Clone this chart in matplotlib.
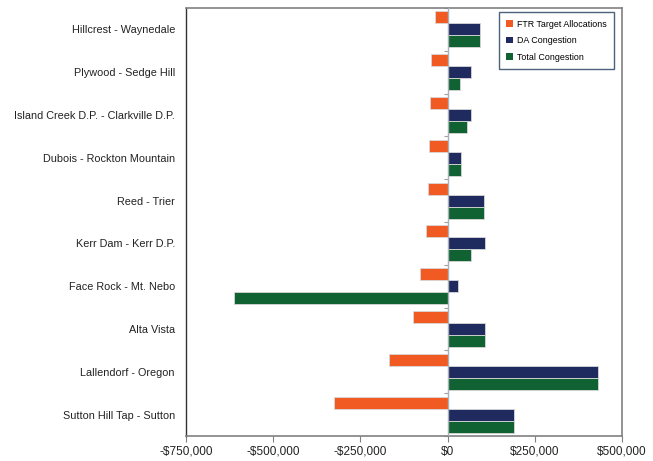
import matplotlib
matplotlib.use("Agg")
import matplotlib.pyplot as plt
import numpy as np
from matplotlib.ticker import FuncFormatter

plt.rcParams['font.family'] = ['Liberation Sans', 'DejaVu Sans']

categories = ["Hillcrest - Waynedale", "Plywood - Sedge Hill",
              "Island Creek D.P. - Clarkville D.P.", "Dubois - Rockton Mountain",
              "Reed - Trier", "Kerr Dam - Kerr D.P.", "Face Rock - Mt. Nebo",
              "Alta Vista", "Lallendorf - Oregon", "Sutton Hill Tap - Sutton"]
ftr = [-36000, -49000, -51000, -52000, -56000, -61000, -80000, -99000, -168000, -327000]
da = [92000, 67000, 68000, 38000, 104000, 107000, 30000, 108000, 431000, 190000]
total = [92000, 35000, 56000, 38000, 104000, 67000, -611000, 108000, 431000, 190000]
series_names = ["FTR Target Allocations", "DA Congestion", "Total Congestion"]
colors = ["#F15A22", "#1F2A5E", "#116233"]
xticks = [-750000, -500000, -250000, 0, 250000, 500000]

fig = plt.figure(figsize=(6.53, 4.61), dpi=100)
ax = fig.add_axes([186/653, 1-436/461, (622-186)/653, (436-8)/461])

n = len(categories)
y = np.arange(n)
h = 0.28
for i, (vals, name, c) in enumerate(zip([ftr, da, total], series_names, colors)):
    ax.barh(y + (i - 1) * h, vals, height=h, color=c, label=name,
            edgecolor='#d8d8d8', linewidth=0.6, zorder=2)

ax.set_xlim(-750000, 500000)
ax.set_ylim(n - 0.5, -0.5)
ax.set_xticks(xticks)
ax.xaxis.set_major_formatter(FuncFormatter(lambda v, p: ("-$" if v < 0 else "$") + f"{abs(int(v)):,}"))
ax.set_yticks(y)
ax.set_yticklabels(categories)
ax.tick_params(axis='y', length=0, pad=8, labelsize=7.8, colors='#222222')
ax.tick_params(axis='x', length=4, width=0.8, color='#808080', labelsize=8.5, pad=3, labelcolor='#222222')

for s in ['left']:
    ax.spines[s].set_color('#333333')
    ax.spines[s].set_linewidth(1.0)
for s in ['top', 'right', 'bottom']:
    ax.spines[s].set_color('#808080')
    ax.spines[s].set_linewidth(1.2)

ax.axvline(0, color='#a8b0b8', linewidth=1.0, zorder=3)
zero_ax = 750000 / 1250000
sec = ax.secondary_yaxis(zero_ax)
sec.set_yticks(np.arange(n + 1) - 0.5)
sec.set_yticklabels([])
sec.tick_params(axis='y', length=3, color='#a0a0a0', width=0.8, direction='in')
sec.spines['left'].set_visible(False)
sec.spines['right'].set_visible(False)

leg = ax.legend(loc='upper right', bbox_to_anchor=(614/653, 1-12/461), bbox_transform=fig.transFigure,
                fontsize=6.4, frameon=True, fancybox=False, handlelength=0.75, handleheight=0.75,
                handletextpad=0.4, labelspacing=0.85, borderpad=0.85, borderaxespad=0)
leg.get_frame().set_edgecolor('#1F3A5A')
leg.get_frame().set_linewidth(1.0)
for hnd in leg.legend_handles:
    hnd.set_edgecolor('none')

fig.savefig("out.png", dpi=100)
